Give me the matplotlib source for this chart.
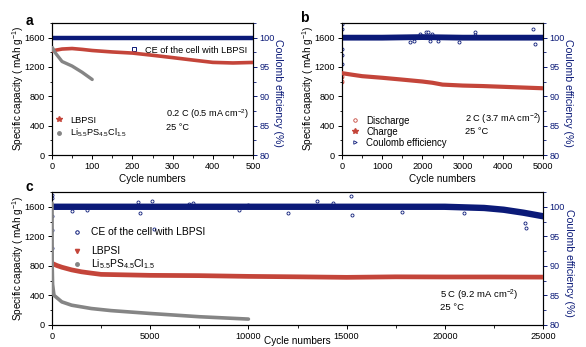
import matplotlib
matplotlib.use("Agg")
import matplotlib.pyplot as plt
from matplotlib.lines import Line2D
from matplotlib.ticker import MultipleLocator

plt.rcParams['font.family'] = ['Liberation Sans', 'DejaVu Sans']
plt.rcParams['font.size'] = 6.7
plt.rcParams['mathtext.fontset'] = 'custom'
plt.rcParams['mathtext.rm'] = 'Liberation Sans'
plt.rcParams['mathtext.it'] = 'Liberation Sans'

RED = '#c4453a'
NAVY = '#0b1a78'
GRAY = '#858585'

# ---------------- panel a: 0.2 C ----------------
a_cycles = [1, 10, 25, 50, 75, 100, 150, 200, 250, 300, 350, 400, 450, 500]
a_lbpsi = [1420, 1430, 1445, 1452, 1440, 1425, 1405, 1390, 1360, 1328, 1295, 1263, 1255, 1262]
a_cl_cycles = [1, 5, 10, 25, 50, 75, 100]
a_cl = [1465, 1420, 1380, 1275, 1213, 1128, 1030]
a_ce_cycles = [1, 100, 200, 300, 400, 500]
a_ce = [100.0, 100.0, 100.0, 100.0, 100.0, 100.0]

# ---------------- panel b: 2 C ----------------
b_cycles = [1, 250, 500, 1000, 1500, 2000, 2250, 2500, 3000, 3500, 4000, 4500, 5000]
b_cap = [1116, 1095, 1075, 1053, 1028, 1002, 985, 960, 947, 940, 930, 920, 910]
b_first_cycles = [1, 2, 3, 5, 8]
b_first_cap = [1000, 1060, 1100, 1010, 1080]
b_ce_cycles = [1, 1000, 2000, 3000, 4000, 5000]
b_ce = [100.0, 100.0, 100.1, 100.0, 100.0, 100.0]
b_ce_first_cycles = [1, 2, 3, 4, 6]
b_ce_first = [98.0, 95.5, 101.5, 97.0, 102.3]
b_ce_out_cycles = [1700, 1800, 1950, 2100, 2150, 2200, 2250, 2400, 2900, 3300, 3320, 4750, 4800]
b_ce_out = [99.2, 99.4, 100.6, 100.9, 101.0, 99.5, 100.7, 99.4, 99.3, 101.0, 100.5, 101.5, 99.0]

# ---------------- panel c: 5 C ----------------
c_cycles = [1, 250, 500, 1000, 1500, 2000, 2500, 5000, 7500, 10000, 12500, 15000, 17500, 20000, 22500, 25000]
c_lbpsi = [835, 805, 782, 746, 720, 702, 685, 672, 668, 658, 652, 645, 652, 650, 650, 648]
c_cl_cycles = [1, 3, 10, 30, 100, 500, 1000, 2000, 3000, 5000, 7500, 10000]
c_cl = [1650, 1200, 800, 550, 402, 313, 268, 223, 195, 156, 112, 80]
c_ce_cycles = [1, 5000, 10000, 15000, 20000, 22000, 23000, 24000, 25000]
c_ce = [100.0, 100.0, 100.0, 100.0, 100.0, 99.8, 99.5, 99.0, 98.4]
c_ce_first_cycles = [1, 2, 4, 6, 10]
c_ce_first = [102.0, 96.0, 93.0, 98.5, 101.5]
c_ce_out_cycles = [1000, 1800, 4400, 4500, 5100, 5200, 7000, 7200, 9500, 10000,
                   12000, 13500, 14300, 15200, 15300, 17800, 21000, 24100, 24150]
c_ce_out = [99.3, 99.4, 100.8, 99.0, 101.0, 96.2, 100.5, 100.7, 99.5, 100.3,
            99.0, 100.9, 100.6, 101.8, 98.6, 99.1, 99.0, 97.2, 96.4]

caps_ticks = [0, 400, 800, 1200, 1600]
ce_ticks = [80, 85, 90, 95, 100]

W, H = 586, 347
fig = plt.figure(figsize=(W / 100, H / 100), dpi=100)


def box(l, t, r, b):
    return [l / W, 1 - b / H, (r - l) / W, (b - t) / H]


def style(ax, xmax, xmajor, xminor, xlabel_y, left_x, right_x, mid_y):
    ax.set_xlim(0, xmax)
    ax.set_ylim(0, 1800)
    ax.set_yticks(caps_ticks)
    ax.yaxis.set_minor_locator(MultipleLocator(200))
    ax.xaxis.set_major_locator(MultipleLocator(xmajor))
    ax.xaxis.set_minor_locator(MultipleLocator(xminor))
    ax.tick_params(which='major', length=3, width=0.7, pad=2, labelsize=6.6)
    ax.tick_params(which='minor', length=1.8, width=0.6)
    ax.tick_params(axis='x', top=False)
    for s in ax.spines.values():
        s.set_linewidth(0.8)
    ax.set_xlabel('Cycle numbers', fontsize=7.2)
    ax.xaxis.set_label_coords(0.5, xlabel_y)
    fig.text(left_x / W, 1 - mid_y / H, 'Specific capacity ( mAh g$^{-1}$)',
             rotation=90, ha='center', va='center', fontsize=7.2)
    ax2 = ax.twinx()
    ax2.set_ylim(80, 102.5)
    ax2.set_yticks(ce_ticks)
    ax2.yaxis.set_minor_locator(MultipleLocator(2.5))
    ax2.tick_params(which='major', length=3, width=0.7, pad=1.5, labelsize=6.6,
                    colors=NAVY)
    ax2.tick_params(which='minor', length=1.8, width=0.6, colors=NAVY)
    for s in ax2.spines.values():
        s.set_linewidth(0.8)
    ax2.spines['right'].set_color(NAVY)
    fig.text(right_x / W, 1 - (mid_y + 5) / H, 'Coulomb efficiency (%)',
             rotation=270, ha='center', va='center', color=NAVY, fontsize=7.6)
    return ax2


li_label = 'Li$_{5.5}$PS$_{4.5}$Cl$_{1.5}$'

# ---- a ----
axa = fig.add_axes(box(52, 23, 253, 155))
axa2 = style(axa, 500, 100, 50, -0.145, 18, 278, 88)
axa.plot(a_cycles, a_lbpsi, color=RED, lw=2.6, solid_capstyle='round', zorder=3)
axa.plot(a_cl_cycles, a_cl, color=GRAY, lw=2.4, solid_capstyle='round', zorder=3)
axa2.plot(a_ce_cycles, a_ce, color=NAVY, lw=3.2, zorder=3)
axa2.set_zorder(axa.get_zorder() - 1)
axa.patch.set_visible(False)
axa.legend(handles=[Line2D([], [], ls='', marker='*', ms=4, color=RED, label='LBPSI'),
                    Line2D([], [], ls='', marker='o', ms=2.5, color=GRAY, label=li_label)],
           loc='upper left', bbox_to_anchor=(49 / W, 1 - 111 / H),
           bbox_transform=fig.transFigure, frameon=False, borderpad=0,
           handlelength=1.2, handletextpad=0.6, labelspacing=0.25, fontsize=6.6)
axa2.legend(handles=[Line2D([], [], ls='', marker='s', ms=2.2, mfc='white', mec=NAVY,
                            mew=0.7, label='CE of the cell with LBPSI')],
            loc='upper left', bbox_to_anchor=(124 / W, 1 - 41 / H),
            bbox_transform=fig.transFigure, frameon=False, borderpad=0,
            handlelength=1.2, handletextpad=0.6, fontsize=6.6)
fig.text(166 / W, 1 - 114 / H, '0.2 C (0.5 mA cm$^{-2}$)', va='center', fontsize=6.6)
fig.text(166 / W, 1 - 127 / H, '25 °C', va='center', fontsize=6.6)
fig.text(29 / W, 1 - 21 / H, 'a', fontsize=10, fontweight='bold', ha='center', va='center')

# ---- b ----
axb = fig.add_axes(box(342, 23, 543, 155))
axb2 = style(axb, 5000, 1000, 500, -0.145, 308, 568, 88)
axb.plot(b_cycles, b_cap, color=RED, lw=3.0, solid_capstyle='round', zorder=3)
axb.plot(b_first_cycles, b_first_cap, ls='', marker='o', ms=2, mfc='white', mec=RED, mew=0.6)
axb2.plot(b_ce_cycles, b_ce, color=NAVY, lw=4.2, zorder=3)
axb2.plot(b_ce_first_cycles, b_ce_first, ls='', marker='o', ms=2.2, mfc='white', mec=NAVY, mew=0.6)
axb2.plot(b_ce_out_cycles, b_ce_out, ls='', marker='o', ms=2.2, mfc='white', mec=NAVY, mew=0.6)
axb2.set_zorder(axb.get_zorder() - 1)
axb.patch.set_visible(False)
axb.legend(handles=[Line2D([], [], ls='', marker='o', ms=2.5, mfc='white', mec=RED, mew=0.6, label='Discharge'),
                    Line2D([], [], ls='', marker='*', ms=4, color=RED, label='Charge'),
                    Line2D([], [], ls='', marker='>', ms=2.5, mfc='white', mec=NAVY, mew=0.6,
                           label='Coulomb efficiency')],
           loc='upper left', bbox_to_anchor=(344 / W, 1 - 111 / H),
           bbox_transform=fig.transFigure, frameon=False, borderpad=0,
           handlelength=1.2, handletextpad=0.6, labelspacing=0.1, fontsize=6.9)
fig.text(465 / W, 1 - 119 / H, '2 C (3.7 mA cm$^{-2}$)', va='center', fontsize=6.7)
fig.text(465 / W, 1 - 131 / H, '25 °C', va='center', fontsize=6.7)
fig.text(304 / W, 1 - 18 / H, 'b', fontsize=10, fontweight='bold', ha='center', va='center')

# ---- c ----
axc = fig.add_axes(box(52, 192, 543, 325))
axc2 = style(axc, 25000, 5000, 2500, -0.085, 18, 569, 258)
axc.plot(c_cycles, c_lbpsi, color=RED, lw=3.4, solid_capstyle='round', zorder=3)
axc.plot(c_cl_cycles, c_cl, color=GRAY, lw=2.6, solid_capstyle='round', zorder=3)
axc2.plot(c_ce_cycles, c_ce, color=NAVY, lw=4.6, zorder=3)
axc2.plot(c_ce_first_cycles, c_ce_first, ls='', marker='o', ms=2.2, mfc='white', mec=NAVY, mew=0.6)
axc2.plot(c_ce_out_cycles, c_ce_out, ls='', marker='o', ms=2.2, mfc='white', mec=NAVY, mew=0.6)
axc2.set_zorder(axc.get_zorder() - 1)
axc.patch.set_visible(False)
axc2.legend(handles=[Line2D([], [], ls='', marker='o', ms=2.5, mfc='white', mec=NAVY, mew=0.7,
                            label='CE of the cell with LBPSI')],
            loc='upper left', bbox_to_anchor=(66 / W, 1 - 222 / H),
            bbox_transform=fig.transFigure, frameon=False, borderpad=0,
            handlelength=1.2, handletextpad=0.7, fontsize=7.4)
axc.legend(handles=[Line2D([], [], ls='', marker='v', ms=3, color=RED, label='LBPSI'),
                    Line2D([], [], ls='', marker='o', ms=2.5, color=GRAY, label=li_label)],
           loc='upper left', bbox_to_anchor=(66 / W, 1 - 241 / H),
           bbox_transform=fig.transFigure, frameon=False, borderpad=0,
           handlelength=1.2, handletextpad=0.7, labelspacing=0.15, fontsize=7.4)
fig.text(440 / W, 1 - 295 / H, '5 C (9.2 mA cm$^{-2}$)', va='center', fontsize=6.8)
fig.text(440 / W, 1 - 307 / H, '25 °C', va='center', fontsize=6.8)
fig.text(29 / W, 1 - 187 / H, 'c', fontsize=10, fontweight='bold', ha='center', va='center')

fig.savefig('out.png', dpi=100)
